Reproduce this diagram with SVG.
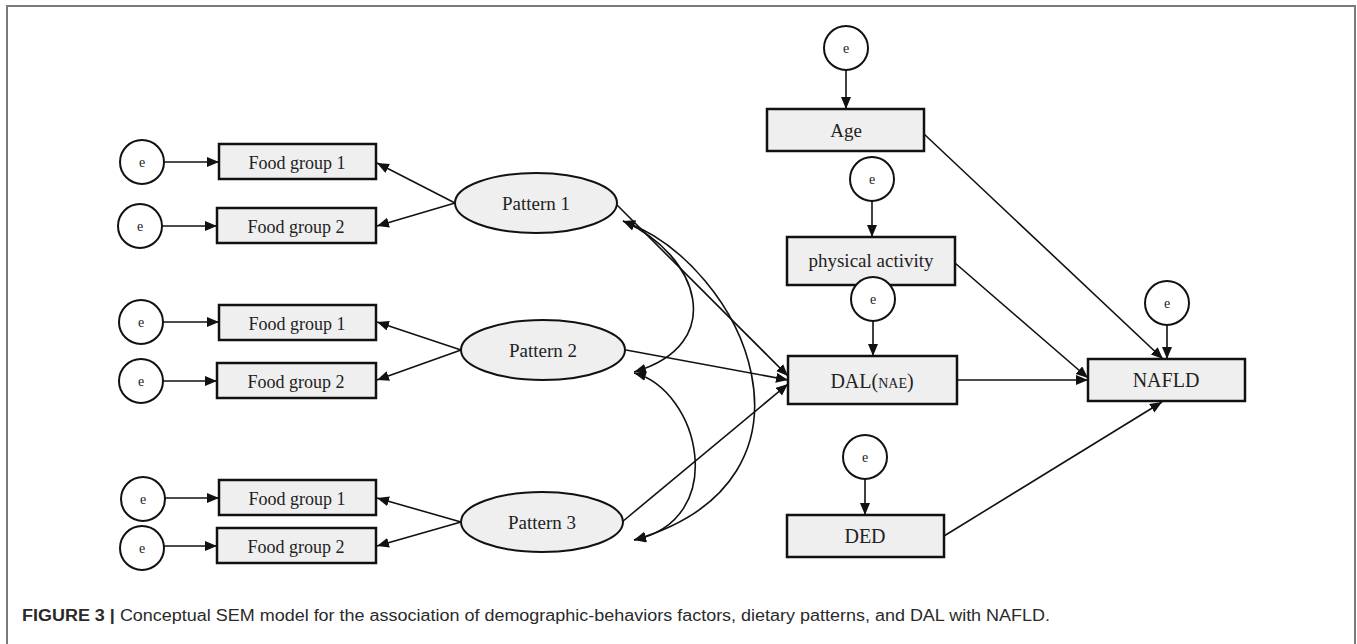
<svg xmlns="http://www.w3.org/2000/svg" width="1357" height="644" viewBox="0 0 1357 644">
<defs>
<marker id="ah" markerUnits="userSpaceOnUse" markerWidth="13" markerHeight="11" refX="12" refY="5" orient="auto-start-reverse" viewBox="0 0 13 11">
<path d="M0,0 L12,5 L0,10 z" fill="#111"/>
</marker>
<style>
.box{fill:#efefef;stroke:#111;stroke-width:2.5}
.ell{fill:#efefef;stroke:#111;stroke-width:2}
.err{fill:#fff;stroke:#111;stroke-width:2}
.lbl{font-family:"Liberation Serif","Times New Roman",serif;fill:#222;text-anchor:middle}
.fg{font-size:18px}
.big{font-size:19px}
.e{font-size:14px}
.con{fill:none;stroke:#111;stroke-width:1.6}
.arr{marker-end:url(#ah)}
.dbl{marker-start:url(#ah);marker-end:url(#ah)}
</style>
</defs>
<path d="M7,644 V6 H1355 V644" fill="none" stroke="#7a7a7a" stroke-width="2"/>

<g id="connectors">
<!-- error to food groups -->
<line class="con arr" x1="164" y1="162" x2="219" y2="162"/>
<line class="con arr" x1="162" y1="226" x2="217" y2="226"/>
<line class="con arr" x1="163" y1="322" x2="219" y2="322"/>
<line class="con arr" x1="163" y1="381" x2="217" y2="381"/>
<line class="con arr" x1="165" y1="498" x2="219" y2="498"/>
<line class="con arr" x1="164" y1="546" x2="217" y2="546"/>
<!-- patterns to food groups -->
<line class="con arr" x1="455" y1="203" x2="377" y2="163"/>
<line class="con arr" x1="455" y1="203" x2="377" y2="226"/>
<line class="con arr" x1="461" y1="350" x2="377" y2="322"/>
<line class="con arr" x1="461" y1="350" x2="377" y2="380"/>
<line class="con arr" x1="461" y1="522" x2="377" y2="498"/>
<line class="con arr" x1="461" y1="522" x2="377" y2="546"/>
<!-- patterns to DAL -->
<line class="con arr" x1="617" y1="205" x2="788" y2="376"/>
<line class="con arr" x1="626" y1="350" x2="788" y2="380"/>
<line class="con arr" x1="622" y1="522" x2="788" y2="384"/>
<!-- covariances -->
<path class="con dbl" d="M623,221 C700,255 728,345 634,372"/>
<path class="con dbl" d="M623,221 C745,265 840,480 634,540"/>
<path class="con dbl" d="M634,373 C700,390 730,520 634,540"/>
<!-- right side errors -->
<line class="con arr" x1="846" y1="70" x2="846" y2="109"/>
<line class="con arr" x1="872" y1="201" x2="872" y2="237"/>
<line class="con arr" x1="873" y1="321" x2="873" y2="356"/>
<line class="con arr" x1="1167" y1="325" x2="1167" y2="359"/>
<line class="con arr" x1="865" y1="479" x2="865" y2="515"/>
<!-- to NAFLD -->
<line class="con arr" x1="924" y1="134" x2="1163" y2="359"/>
<line class="con arr" x1="955" y1="263" x2="1088" y2="378"/>
<line class="con arr" x1="957" y1="380" x2="1088" y2="380"/>
<line class="con arr" x1="944" y1="536" x2="1162" y2="402"/>
</g>

<g id="e1"><circle class="err" cx="142" cy="162" r="22"/><text class="lbl e" x="142" y="167">e</text></g>
<g id="fg11"><rect class="box" x="219" y="144" width="157" height="35"/><text class="lbl fg" x="297" y="169">Food group 1</text></g>
<g id="e2"><circle class="err" cx="140" cy="226" r="22"/><text class="lbl e" x="140" y="231">e</text></g>
<g id="fg12"><rect class="box" x="217" y="208" width="159" height="35"/><text class="lbl fg" x="296" y="233">Food group 2</text></g>
<g id="p1"><ellipse class="ell" cx="536" cy="203" rx="81" ry="30"/><text class="lbl big" x="536" y="210">Pattern 1</text></g>

<g id="e3"><circle class="err" cx="141" cy="322" r="22"/><text class="lbl e" x="141" y="327">e</text></g>
<g id="fg21"><rect class="box" x="219" y="305" width="157" height="35"/><text class="lbl fg" x="297" y="330">Food group 1</text></g>
<g id="e4"><circle class="err" cx="141" cy="381" r="22"/><text class="lbl e" x="141" y="386">e</text></g>
<g id="fg22"><rect class="box" x="217" y="363" width="159" height="35"/><text class="lbl fg" x="296" y="388">Food group 2</text></g>
<g id="p2"><ellipse class="ell" cx="543" cy="350" rx="82" ry="30"/><text class="lbl big" x="543" y="357">Pattern 2</text></g>

<g id="e5"><circle class="err" cx="143" cy="499" r="22"/><text class="lbl e" x="143" y="504">e</text></g>
<g id="fg31"><rect class="box" x="219" y="480" width="157" height="35"/><text class="lbl fg" x="297" y="505">Food group 1</text></g>
<g id="e6"><circle class="err" cx="142" cy="548" r="22"/><text class="lbl e" x="142" y="553">e</text></g>
<g id="fg32"><rect class="box" x="217" y="528" width="159" height="35"/><text class="lbl fg" x="296" y="553">Food group 2</text></g>
<g id="p3"><ellipse class="ell" cx="542" cy="522" rx="81" ry="30"/><text class="lbl big" x="542" y="529">Pattern 3</text></g>

<g id="age-e"><circle class="err" cx="846" cy="48" r="22"/><text class="lbl e" x="846" y="53">e</text></g>
<g id="age"><rect class="box" x="767" y="109" width="157" height="42"/><text class="lbl big" x="846" y="137">Age</text></g>
<g id="pa-e"><circle class="err" cx="872" cy="179" r="22"/><text class="lbl e" x="872" y="184">e</text></g>
<g id="pa"><rect class="box" x="787" y="237" width="168" height="48"/><text class="lbl big" x="871" y="267">physical activity</text></g>
<g id="dal-e"><circle class="err" cx="873" cy="299" r="22"/><text class="lbl e" x="873" y="304">e</text></g>
<g id="dal"><rect class="box" x="788" y="356" width="169" height="48"/><text class="lbl" x="872" y="388" font-size="20">DAL(<tspan font-size="14">NAE</tspan>)</text></g>
<g id="nafld-e"><circle class="err" cx="1167" cy="303" r="22"/><text class="lbl e" x="1167" y="308">e</text></g>
<g id="nafld"><rect class="box" x="1088" y="359" width="157" height="42"/><text class="lbl" x="1166" y="387" font-size="20">NAFLD</text></g>
<g id="ded-e"><circle class="err" cx="865" cy="457" r="22"/><text class="lbl e" x="865" y="462">e</text></g>
<g id="ded"><rect class="box" x="787" y="515" width="157" height="42"/><text class="lbl" x="865" y="543" font-size="20">DED</text></g>

<g id="caption">
<text x="22" y="621" font-family="'Liberation Sans',Arial,sans-serif" font-size="16" fill="#2a2a2a" textLength="1028" lengthAdjust="spacingAndGlyphs"><tspan font-weight="bold">FIGURE 3 |</tspan> Conceptual SEM model for the association of demographic-behaviors factors, dietary patterns, and DAL with NAFLD.</text>
</g>
</svg>
